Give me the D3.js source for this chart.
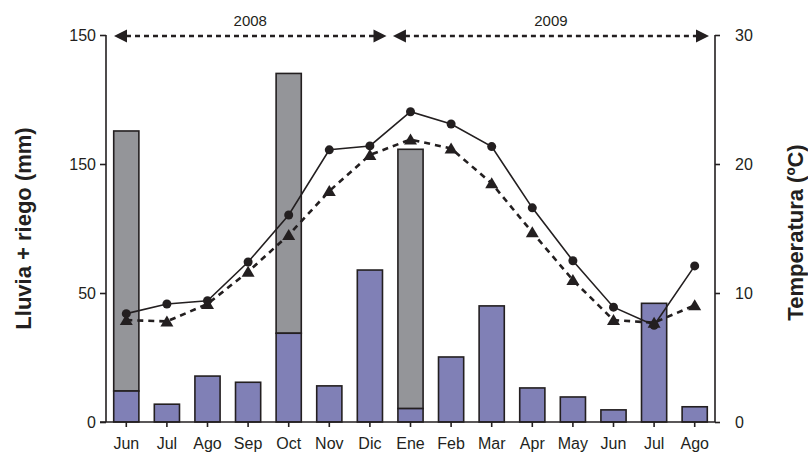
<!DOCTYPE html>
<html>
<head>
<meta charset="utf-8">
<script src="https://cdn.jsdelivr.net/npm/d3@7/dist/d3.min.js"></script>
<style>
  html, body { margin: 0; padding: 0; background: #fff; }
  svg { display: block; }
  text { font-family: "Liberation Sans", Arial, sans-serif; fill: #231f20; }
</style>
</head>
<body>
<svg id="chart" width="808" height="455"></svg>
<script>
// Months (Jun 2008 – Ago 2009)
const months = ["Jun", "Jul", "Ago", "Sep", "Oct", "Nov", "Dic", "Ene", "Feb", "Mar", "Apr", "May", "Jun", "Jul", "Ago"];
// Rainfall (mm)
const lluvia = [12, 6.9, 17.8, 15.4, 34.4, 14, 58.9, 5.2, 25.2, 45, 13.2, 9.7, 4.7, 46, 5.9];
// Irrigation (mm), stacked on top of rainfall
const riego = [100.8, 0, 0, 0, 100.7, 0, 0, 100.5, 0, 0, 0, 0, 0, 0, 0];
// Temperature series (ºC)
const tempCirculo = [8.4, 9.15, 9.4, 12.4, 16.05, 21.1, 21.4, 24.05, 23.1, 21.35, 16.6, 12.5, 8.9, 7.5, 12.1];
const tempTriangulo = [7.9, 7.8, 9.15, 11.65, 14.5, 17.9, 20.7, 21.9, 21.2, 18.5, 14.7, 11.0, 7.9, 7.7, 9.05];
// Axis ticks
const leftTicks = [0, 50, 100, 150];
const leftTickLabels = ["0", "50", "150", "150"];
const rightTicks = [0, 10, 20, 30];
// Year spans
const years = [
  { label: "2008", from: 0, to: 6 },
  { label: "2009", from: 7, to: 14 }
];

const svg = d3.select("#chart");
const plot = { left: 106, right: 715, top: 35, bottom: 422 };
const ink = "#231f20";

const x = d3.scaleBand()
  .domain(d3.range(months.length))
  .range([plot.left, plot.right])
  .paddingInner(0.38)
  .paddingOuter(0.19);
const yMm = d3.scaleLinear().domain([0, 150]).range([plot.bottom, plot.top]);
const yT = d3.scaleLinear().domain([0, 30]).range([plot.bottom, plot.top]);
const cx = i => x(i) + x.bandwidth() / 2;

// Bars: rainfall (blue) with irrigation (grey) stacked above
const bars = svg.append("g");
months.forEach((m, i) => {
  if (riego[i] > 0) {
    bars.append("rect")
      .attr("x", x(i)).attr("width", x.bandwidth())
      .attr("y", yMm(lluvia[i] + riego[i]))
      .attr("height", yMm(lluvia[i]) - yMm(lluvia[i] + riego[i]))
      .attr("fill", "#949599").attr("stroke", ink).attr("stroke-width", 1.6);
  }
  bars.append("rect")
    .attr("x", x(i)).attr("width", x.bandwidth())
    .attr("y", yMm(lluvia[i]))
    .attr("height", yMm(0) - yMm(lluvia[i]))
    .attr("fill", "#8080b6").attr("stroke", ink).attr("stroke-width", 1.6);
});

// Axes
const axisLeft = d3.axisLeft(yMm).tickValues(leftTicks)
  .tickFormat((d, i) => leftTickLabels[i]).tickSize(6).tickPadding(4);
const axisRight = d3.axisRight(yT).tickValues(rightTicks).tickSize(5).tickPadding(15);
const axisBottom = d3.axisBottom(x).tickFormat(i => months[i]).tickSize(5).tickPadding(11);

function styleAxis(g) {
  g.select(".domain").attr("stroke", ink).attr("stroke-width", 1.6);
  g.selectAll(".tick line").attr("stroke", ink).attr("stroke-width", 1.6);
  g.selectAll(".tick text").attr("font-size", 16).attr("fill", ink)
    .style("font-family", "'Liberation Sans', Arial, sans-serif");
}

svg.append("g").attr("transform", `translate(${plot.left},0)`).call(axisLeft).call(styleAxis)
  .select(".domain").attr("d", `M-0,${plot.top}V${plot.bottom}`);
svg.append("g").attr("transform", `translate(${plot.right},0)`).call(axisRight).call(styleAxis)
  .select(".domain").attr("d", `M0,${plot.top}V${plot.bottom}`);
const gb = svg.append("g").attr("transform", `translate(0,${plot.bottom})`).call(axisBottom).call(styleAxis);
gb.select(".domain").attr("d", `M${plot.left - 6},0H${plot.right}`);

// Temperature lines
const lineOf = arr => d3.line().x((d, i) => cx(i)).y(d => yT(d))(arr);

svg.append("path")
  .attr("d", lineOf(tempTriangulo))
  .attr("fill", "none").attr("stroke", ink)
  .attr("stroke-width", 2.6).attr("stroke-dasharray", "6,5");
const tri = "M0,-6L6.5,5L-6.5,5Z";
svg.append("g").selectAll("path").data(tempTriangulo).join("path")
  .attr("d", tri)
  .attr("transform", (d, i) => `translate(${cx(i)},${yT(d)})`)
  .attr("fill", ink);

svg.append("path")
  .attr("d", lineOf(tempCirculo))
  .attr("fill", "none").attr("stroke", ink).attr("stroke-width", 1.6);
svg.append("g").selectAll("circle").data(tempCirculo).join("circle")
  .attr("cx", (d, i) => cx(i)).attr("cy", d => yT(d)).attr("r", 4.5)
  .attr("fill", ink);

// Year spans with double-headed dashed arrows
const arrowY = plot.top + 1;
const spanX = [
  [plot.left + 8, x(6) + x.bandwidth() + 4],
  [x(7) - 5, plot.right - 6]
];
years.forEach((yr, k) => {
  const [a, b] = spanX[k];
  const g = svg.append("g");
  g.append("line")
    .attr("x1", a + 12).attr("x2", b - 12).attr("y1", arrowY).attr("y2", arrowY)
    .attr("stroke", ink).attr("stroke-width", 2.6).attr("stroke-dasharray", "5,4");
  g.append("path").attr("d", `M${a},${arrowY}l13,-6.5v13Z`).attr("fill", ink);
  g.append("path").attr("d", `M${b},${arrowY}l-13,-6.5v13Z`).attr("fill", ink);
  g.append("text")
    .attr("x", (a + b) / 2).attr("y", arrowY - 10)
    .attr("text-anchor", "middle").attr("font-size", 15)
    .text(yr.label);
});

// Axis titles
svg.append("text")
  .attr("transform", `translate(31,${(plot.top + plot.bottom) / 2}) rotate(-90)`)
  .attr("text-anchor", "middle").attr("font-size", 22).attr("font-weight", "bold")
  .text("Lluvia + riego (mm)");
svg.append("text")
  .attr("transform", `translate(803,${(plot.top + plot.bottom) / 2 + 4}) rotate(-90)`)
  .attr("text-anchor", "middle").attr("font-size", 22).attr("font-weight", "bold")
  .text("Temperatura (ºC)");
</script>
</body>
</html>
